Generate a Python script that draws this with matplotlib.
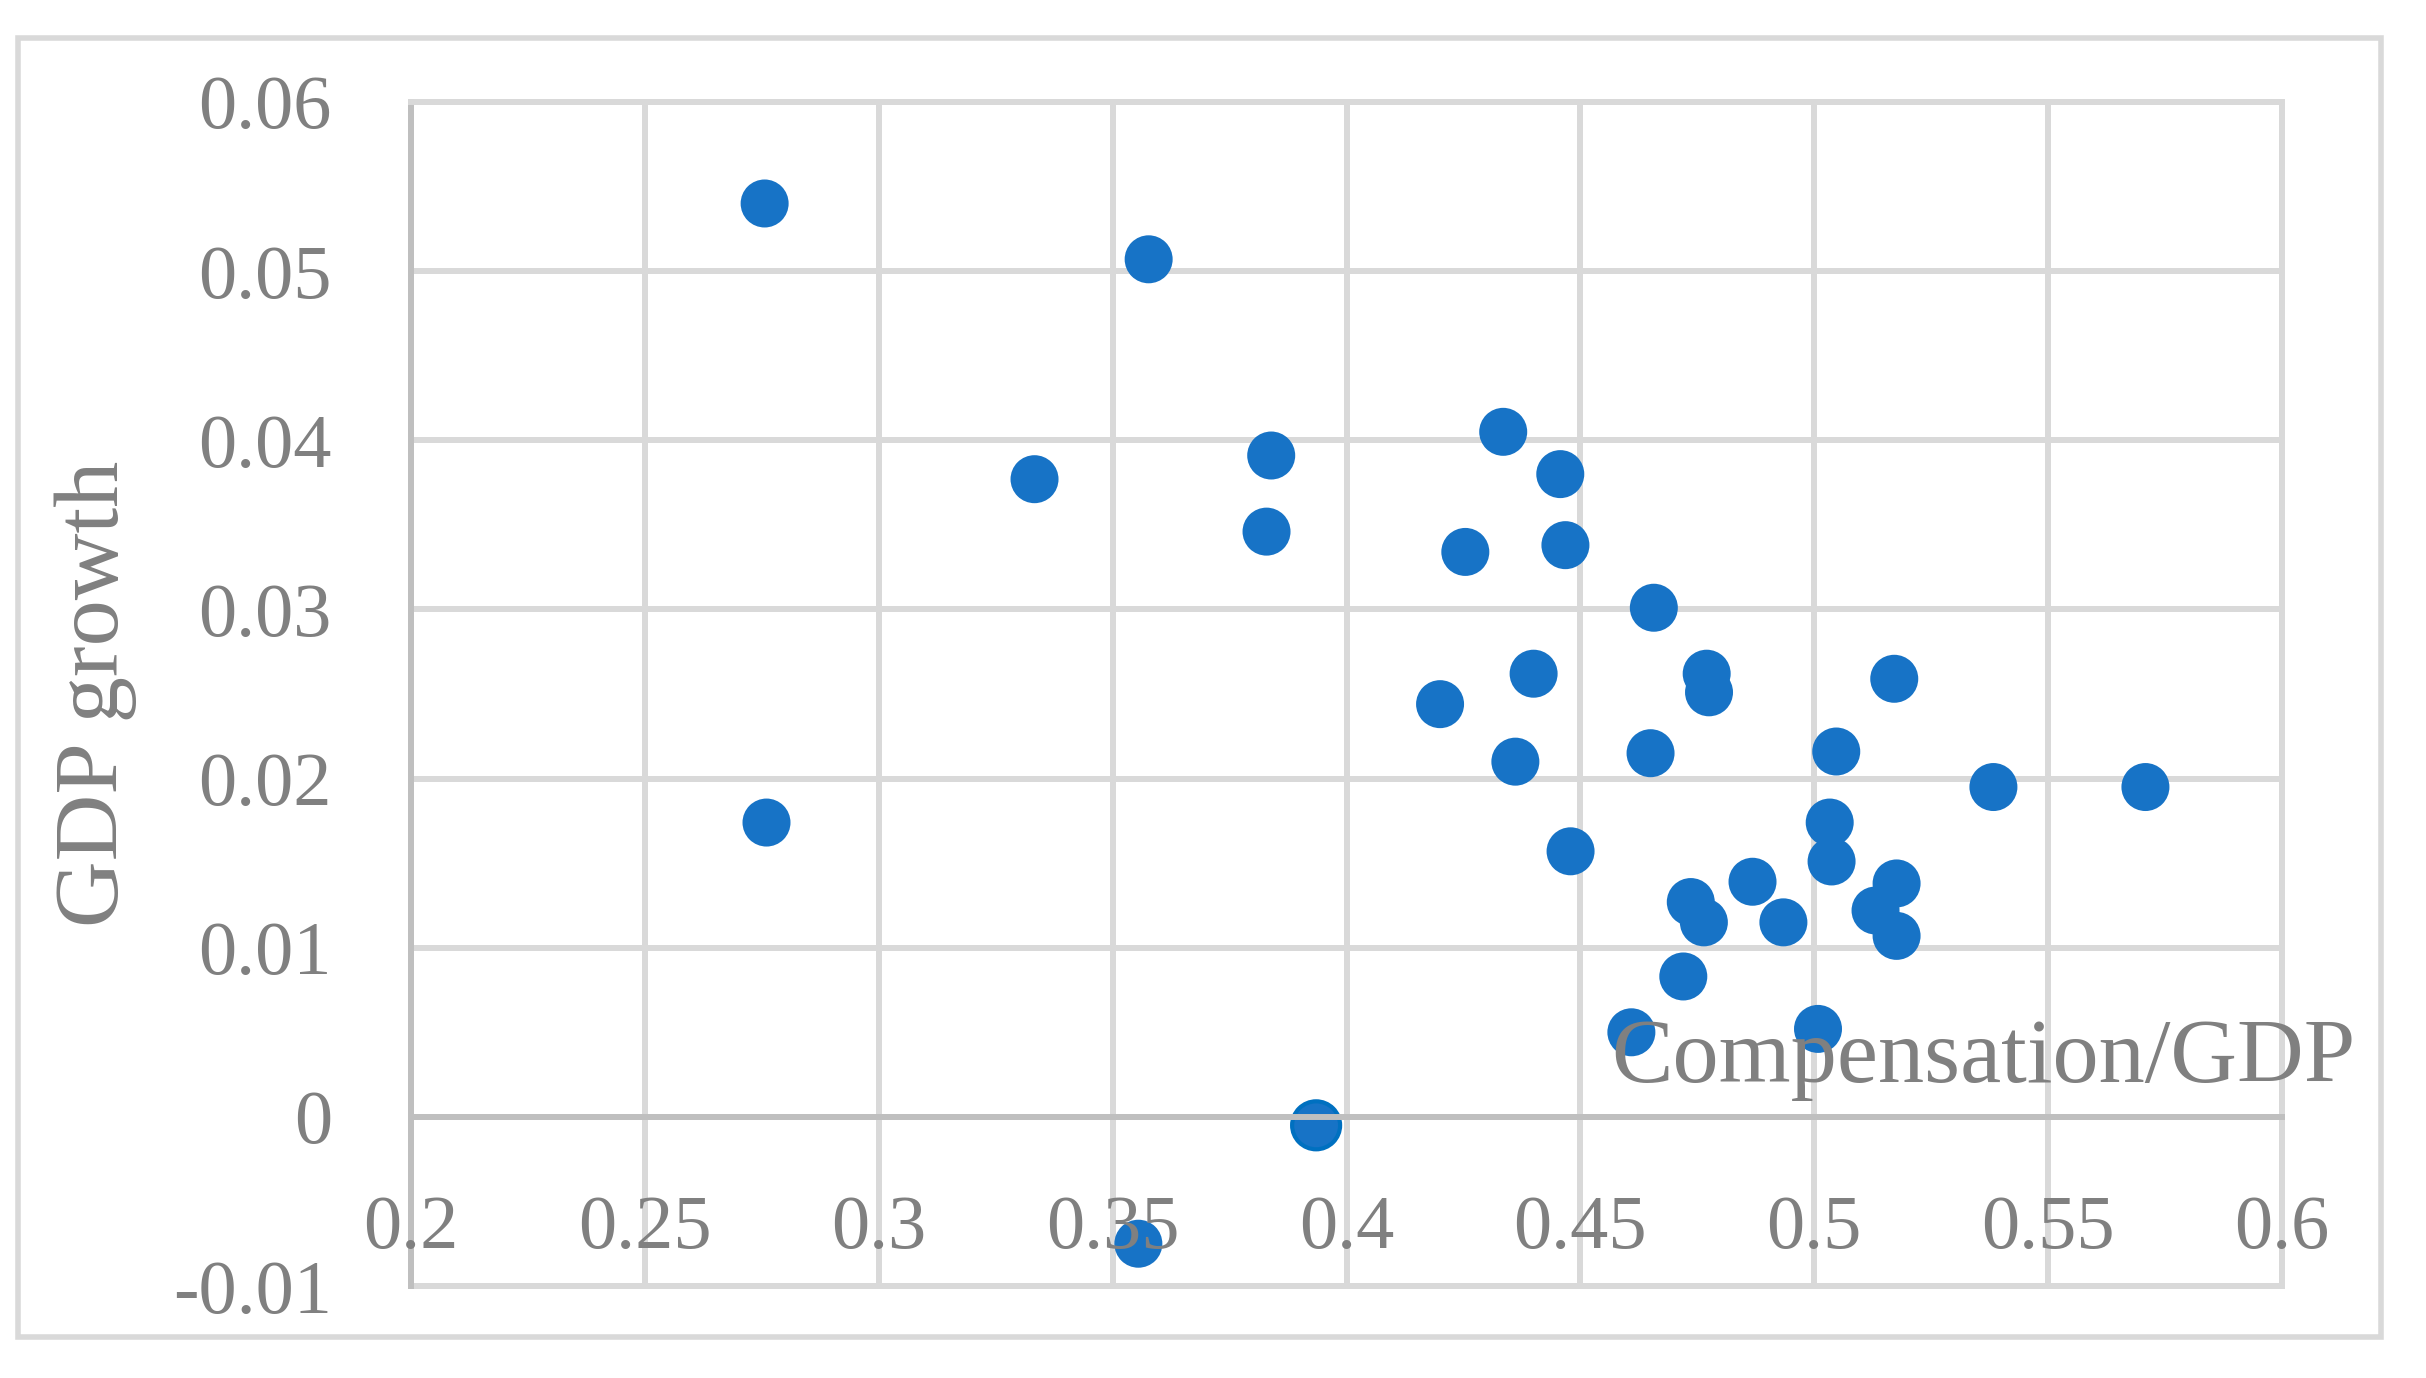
import matplotlib
matplotlib.use("Agg")
import matplotlib.pyplot as plt
from matplotlib.patches import Rectangle

# compensation share of GDP vs GDP growth
comp_gdp = [0.2756, 0.3577, 0.3333, 0.3839, 0.3829, 0.4335, 0.4457, 0.4254,
            0.4468, 0.4657, 0.4400, 0.4200, 0.4770, 0.4775, 0.5171, 0.4361,
            0.4650, 0.5047, 0.5383, 0.5708, 0.2760, 0.5033, 0.5037, 0.4479,
            0.4868, 0.5176, 0.4736, 0.4764, 0.4934, 0.5131, 0.5176, 0.4720,
            0.4609, 0.5008, 0.3935, 0.3555]
gdp_growth = [0.0540, 0.0507, 0.0377, 0.0391, 0.0346, 0.0405, 0.0380, 0.0334,
              0.0338, 0.0301, 0.0262, 0.0244, 0.0262, 0.0251, 0.0259, 0.0210,
              0.0215, 0.0216, 0.0195, 0.0195, 0.0174, 0.0174, 0.0151, 0.0157,
              0.0139, 0.0138, 0.0127, 0.0115, 0.0115, 0.0122, 0.0107, 0.0083,
              0.0050, 0.0052, -0.0005, -0.0075]

x_ticks = [0.2, 0.25, 0.3, 0.35, 0.4, 0.45, 0.5, 0.55, 0.6]
x_labels = ["0.2", "0.25", "0.3", "0.35", "0.4", "0.45", "0.5", "0.55", "0.6"]
y_ticks = [-0.01, 0, 0.01, 0.02, 0.03, 0.04, 0.05, 0.06]
y_labels = ["-0.01", "0", "0.01", "0.02", "0.03", "0.04", "0.05", "0.06"]

TEXT = "#808080"
GRID = "#d9d9d9"
AXIS = "#bfbfbf"
DOT = "#1773c6"
LW = 4.3

plt.rcParams["font.family"] = ["Liberation Serif", "DejaVu Serif"]

fig = plt.figure(figsize=(24.26, 13.78), dpi=100)
fig.patches.append(Rectangle((0.0074, 0.0298), 0.9740, 0.9427, transform=fig.transFigure,
                             fill=False, edgecolor=GRID, linewidth=4))

ax = fig.add_axes([0.16942, 0.06676, 0.77123, 0.85922])
ax.set_xlim(0.2, 0.6)
ax.set_ylim(-0.01, 0.06)

# gridlines drawn by hand so tick labels can sit above the dots
ax.vlines(x_ticks[1:-1], -0.01, 0.06, colors=GRID, linewidth=LW, zorder=0.5)
ax.hlines([t for t in y_ticks if t not in (-0.01, 0, 0.06)], 0.2, 0.6,
          colors=GRID, linewidth=LW, zorder=0.5)
ax.axhline(-0.01, color=GRID, linewidth=LW, clip_on=False, zorder=0.6)

for side in ("top", "right"):
    ax.spines[side].set_color(GRID)
    ax.spines[side].set_linewidth(LW)
ax.spines["left"].set_color(AXIS)
ax.spines["left"].set_linewidth(LW)
ax.spines["bottom"].set_position(("data", 0))
ax.spines["bottom"].set_color(AXIS)
ax.spines["bottom"].set_linewidth(LW)

edge = [DOT] * len(comp_gdp)
edge[34] = "#0070c0"
ax.scatter(comp_gdp, gdp_growth, s=1194, color=DOT, edgecolors=edge,
           linewidths=[0] * 34 + [3, 0], zorder=1)

ax.set_xticks(x_ticks)
ax.set_xticklabels(x_labels)
ax.set_yticks(y_ticks)
ax.set_yticklabels(y_labels)
ax.tick_params(axis="x", length=0, pad=56, labelsize=55, labelcolor=TEXT)
ax.tick_params(axis="y", length=0, pad=57, labelsize=55, labelcolor=TEXT)
ax.xaxis.set_zorder(3)

fig.text(0.0486, 0.4964, "GDP growth", rotation=90, rotation_mode="anchor",
         ha="center", va="baseline", fontsize=66.5, color=TEXT)
fig.text(0.9711, 0.2148, "Compensation/GDP", ha="right", va="baseline",
         fontsize=66.5, color=TEXT, zorder=5)

fig.savefig("out.png", dpi=100)
